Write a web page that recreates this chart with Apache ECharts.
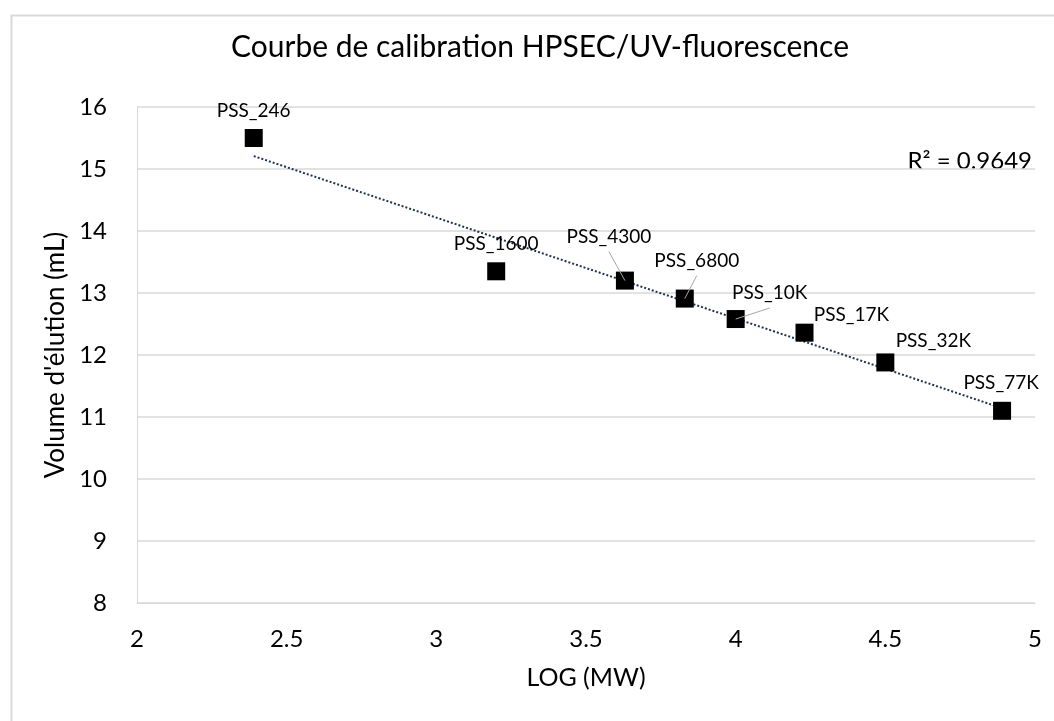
<!DOCTYPE html>
<html>
<head>
<meta charset="utf-8">
<script src="https://cdn.jsdelivr.net/npm/echarts@6/dist/echarts.min.js"></script>
<style>
html,body{margin:0;padding:0;background:#fff;}
#chart{width:1054px;height:721px;}
</style>
</head>
<body>
<div id="chart"></div>
<script>
// ---- data ----
const standards = ['PSS_246','PSS_1600','PSS_4300','PSS_6800','PSS_10K','PSS_17K','PSS_32K','PSS_77K'];
const logMW     = [2.39, 3.20, 3.63, 3.83, 4.00, 4.23, 4.50, 4.89];
const volume    = [15.5, 13.35, 13.2, 12.91, 12.58, 12.36, 11.88, 11.1];
const xTicks = [2, 2.5, 3, 3.5, 4, 4.5, 5];
const yTicks = [8, 9, 10, 11, 12, 13, 14, 15, 16];
const r2Text = 'R² = 0.9649';

// ---- label placement (styling, pixels) ----
const labelOffsets = [[0,-27],[0,-27],[-16,-44],[12,-38],[34,-26],[47,-18],[48,-22],[-1,-28]];
const leaderEnds = {2:[-16,-29], 3:[12,-23], 4:[34,-11]};

// ---- least squares trendline ----
const n = logMW.length;
const mx = logMW.reduce((a,b)=>a+b,0)/n;
const my = volume.reduce((a,b)=>a+b,0)/n;
let sxy=0, sxx=0;
for (let i=0;i<n;i++){ sxy+=(logMW[i]-mx)*(volume[i]-my); sxx+=(logMW[i]-mx)**2; }
const slope = sxy/sxx, icpt = my - slope*mx;
const xMin = Math.min(...logMW), xMax = Math.max(...logMW);
const trend = [[xMin, icpt+slope*xMin],[xMax, icpt+slope*xMax]];

const FONT = 'Lato';
const txt = '#000';
const grey = '#d9d9d9';

const scatterData = logMW.map((x,i)=>({
  value:[x, volume[i]],
  name: standards[i],
  label:{offset: labelOffsets[i]}
}));
const leaderData = Object.keys(leaderEnds).map(k=>[logMW[k], volume[k], +k]);

const chart = echarts.init(document.getElementById('chart'));
chart.setOption({
  animation:false,
  backgroundColor:'#fff',
  textStyle:{fontFamily:FONT},
  grid:{left:137, right:19, top:107, bottom:118, outerBoundsMode:'none'},
  xAxis:{
    type:'value', min:xTicks[0], max:xTicks[xTicks.length-1], interval:0.5,
    name:'LOG (MW)', nameLocation:'middle', nameGap:62,
    nameTextStyle:{fontFamily:FONT, fontSize:25, color:txt},
    axisLine:{show:true, lineStyle:{color:grey, width:1}},
    axisTick:{show:false},
    splitLine:{show:false},
    axisLabel:{fontFamily:FONT, fontSize:24, color:txt, margin:24}
  },
  yAxis:{
    type:'value', min:yTicks[0], max:yTicks[yTicks.length-1], interval:1,
    name:"Volume d'élution (mL)", nameLocation:'middle', nameGap:63, nameRotate:90,
    nameTextStyle:{fontFamily:FONT, fontSize:26, color:txt},
    axisLine:{show:true, lineStyle:{color:grey, width:1}},
    axisTick:{show:false},
    splitLine:{show:true, lineStyle:{color:grey, width:1.5}},
    axisLabel:{fontFamily:FONT, fontSize:24, color:txt, margin:30}
  },
  graphic:[
    {type:'rect', left:9, top:13, z:-10, silent:true,
     shape:{width:1100, height:800}, style:{fill:'none', stroke:grey, lineWidth:2}},
    {type:'text', x:540, y:47, silent:true,
     style:{text:'Courbe de calibration HPSEC/UV-fluorescence', fontFamily:FONT, fontSize:30,
            fill:txt, align:'center', verticalAlign:'middle'}},
    {type:'text', right:22, top:149,
     style:{text:r2Text, fontFamily:FONT, fontSize:24, fill:txt}}
  ],
  series:[
    {
      type:'line', data:trend, symbol:'none', z:2,
      lineStyle:{color:'#1f3350', width:2, type:[2,2]}
    },
    {
      type:'scatter', data:scatterData, symbol:'rect', symbolSize:18, z:3,
      itemStyle:{color:'#000', opacity:1},
      label:{show:true, position:'inside', formatter:'{b}', fontFamily:FONT, fontSize:19, color:txt,
             align:'center', verticalAlign:'middle'}
    },
    {
      type:'custom', z:4, data:leaderData, silent:true,
      renderItem:function(params, api){
        const p = api.coord([api.value(0), api.value(1)]);
        const e = leaderEnds[api.value(2)];
        return {type:'line', shape:{x1:p[0], y1:p[1], x2:p[0]+e[0], y2:p[1]+e[1]},
                style:{stroke:'#a6a6a6', lineWidth:1}};
      }
    }
  ]
});
</script>
</body>
</html>
